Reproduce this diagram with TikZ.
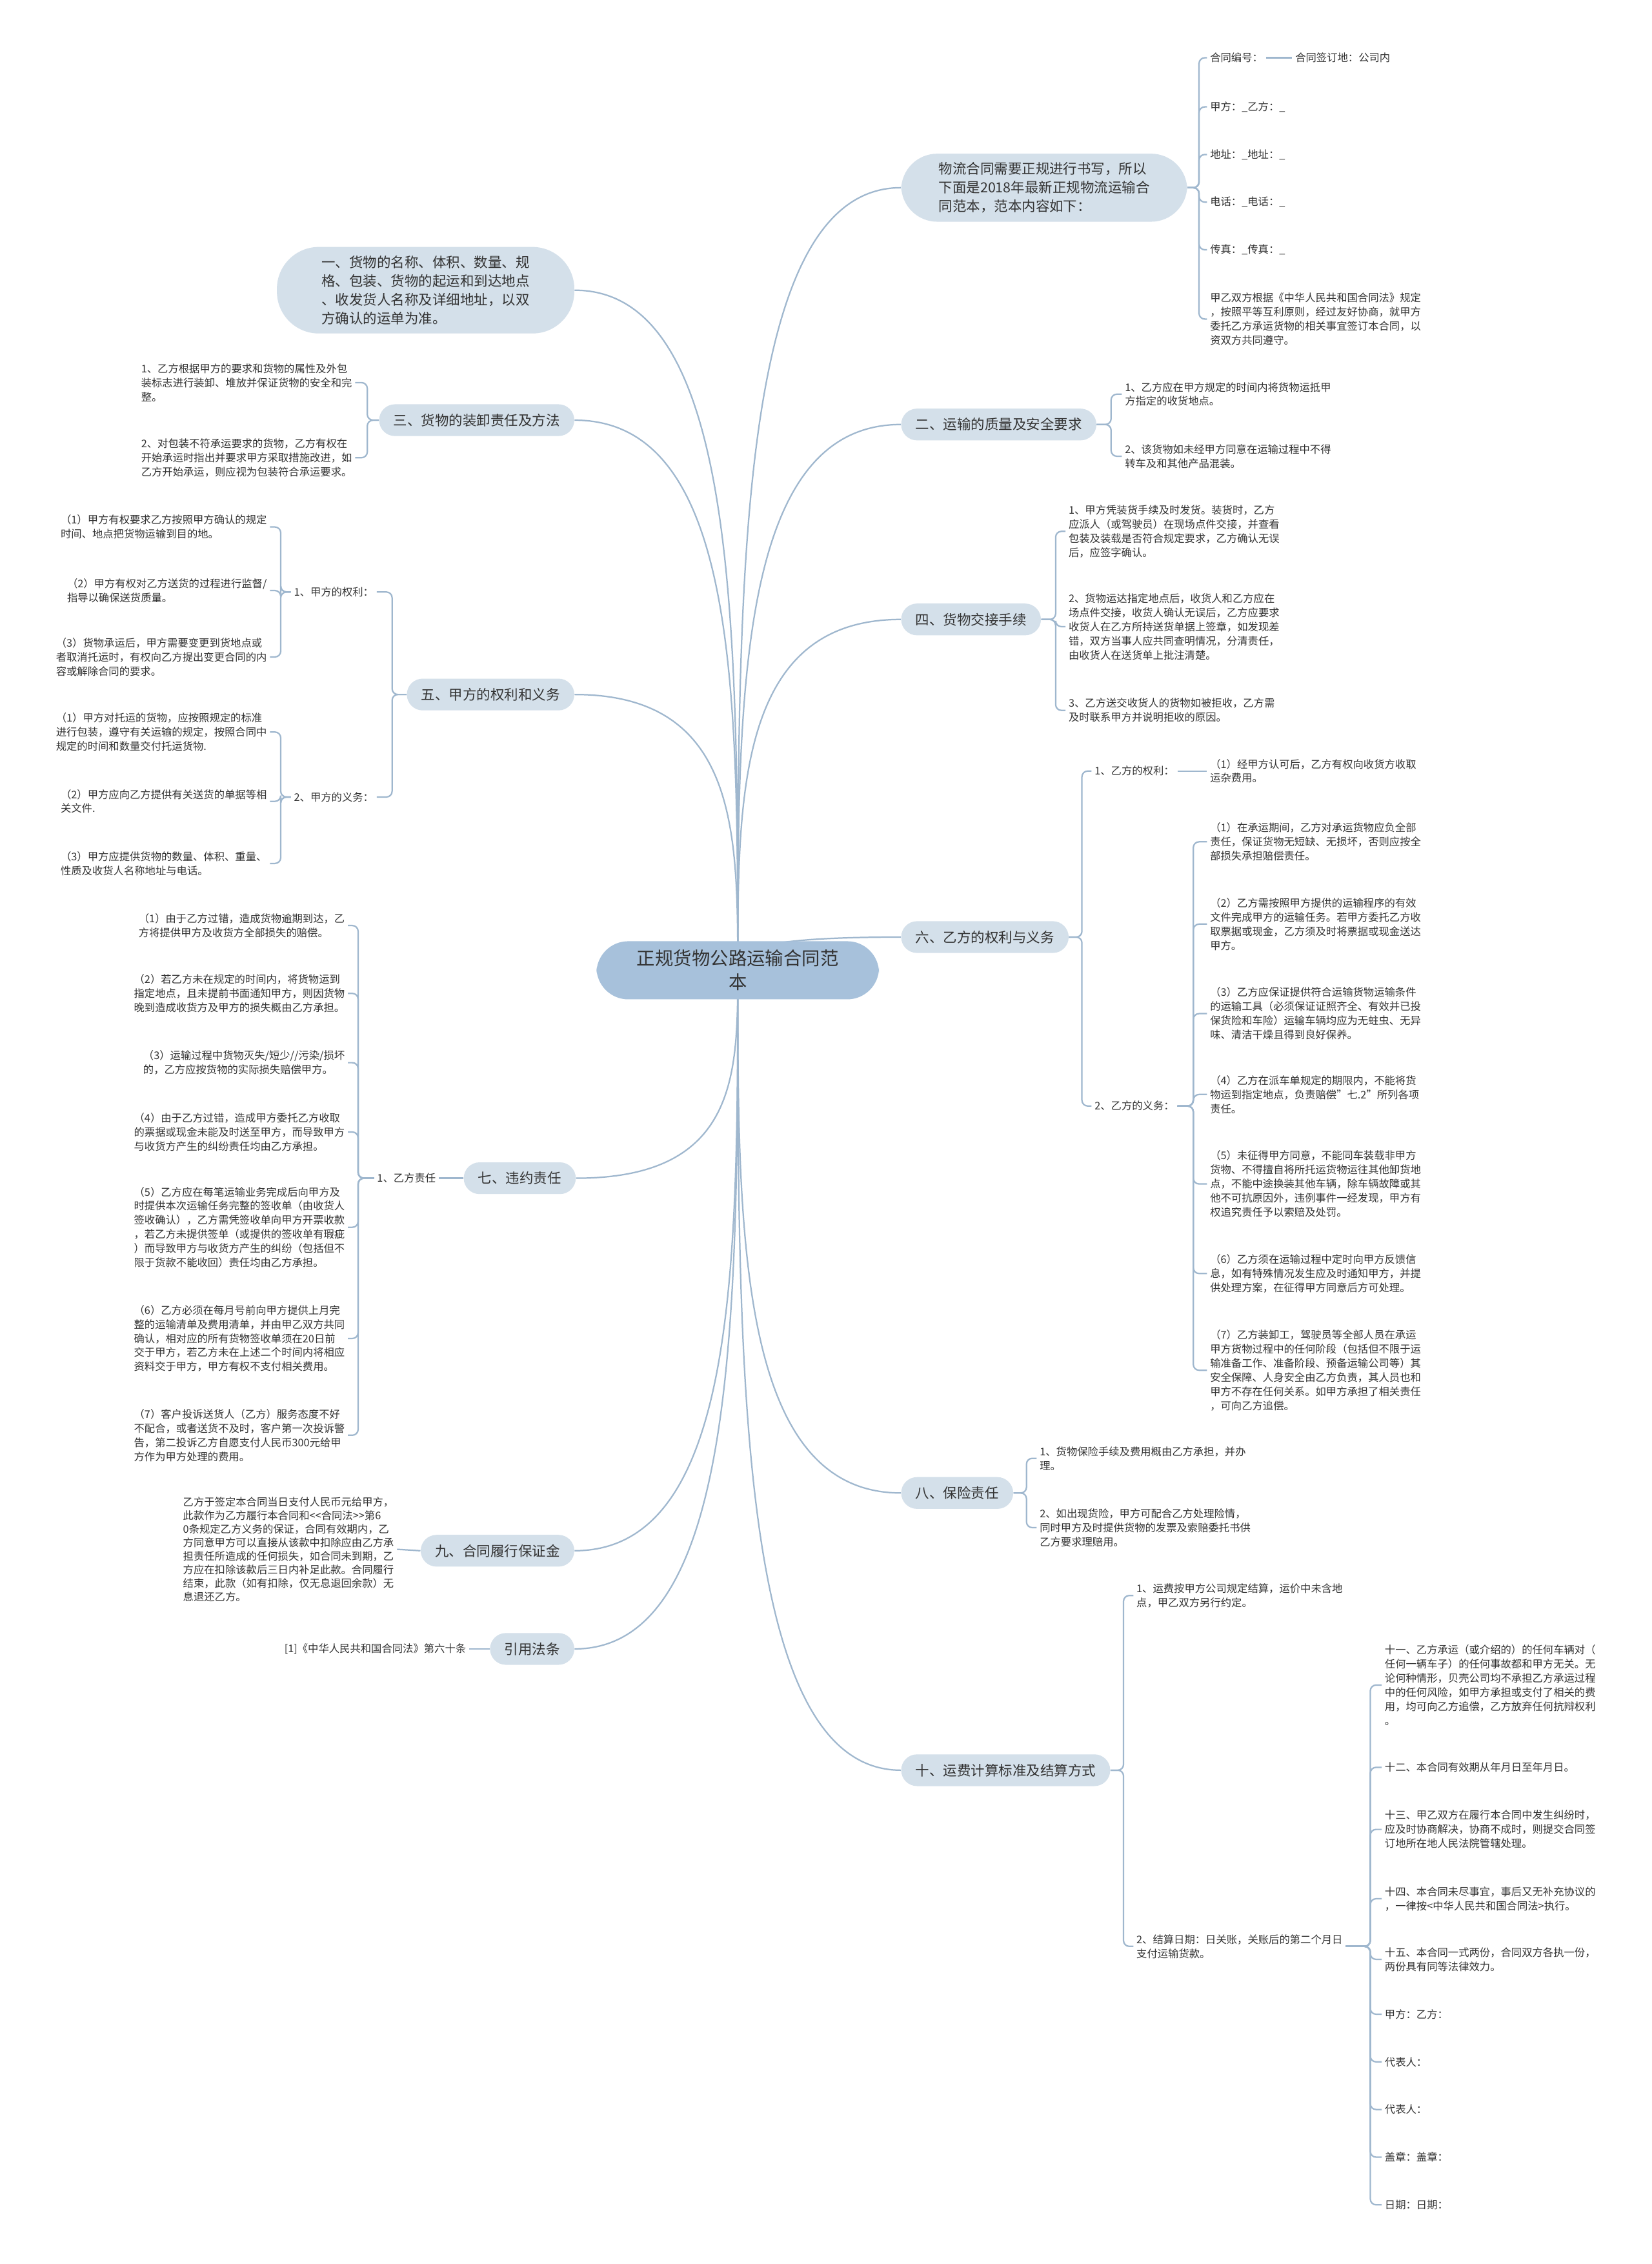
\documentclass[tikz,border=0pt]{standalone}
\usepackage{fontspec}
\setmainfont{Noto Sans CJK SC}
\usetikzlibrary{positioning,calc,backgrounds}
\definecolor{mapline}{HTML}{9FB7CE}
\definecolor{maproot}{HTML}{A7C1DB}
\definecolor{maptopic}{HTML}{D4E0EA}
\definecolor{maptext}{HTML}{333333}

\begin{document}
\begin{tikzpicture}[
    x=1pt, y=-1pt,
    every node/.style={text=maptext, inner sep=2pt},
    root/.style={fill=maproot, rounded corners=22pt, inner xsep=28pt, inner ysep=6pt, align=center, font=\fontsize{12.7}{16.5}\selectfont},
    topic/.style={fill=maptopic, rounded corners=11pt, inner xsep=10pt, minimum height=22pt, align=left, font=\fontsize{9.6}{13}\selectfont},
    bigtopic/.style={topic, rounded corners=25pt, inner xsep=26pt, inner ysep=6pt},
    leaf/.style={align=left, font=\fontsize{7.3}{9.8}\selectfont},
    link/.style={draw=mapline, line width=1pt},
    fork/.style={link, rounded corners=4pt}
]
    \useasboundingbox (0,0) rectangle (1144,1568);

    % root
    \node[root] (ctr) at (511,672) {正规货物公路运输合同范\\本};

    % right topics
    \node[bigtopic, anchor=west] (t0) at (624,130) {物流合同需要正规进行书写，所以\\下面是2018年最新正规物流运输合\\同范本，范本内容如下：};
    \node[topic, anchor=west] (t1) at (624,294) {二、运输的质量及安全要求};
    \node[topic, anchor=west] (t2) at (624,429) {四、货物交接手续};
    \node[topic, anchor=west] (t3) at (624,649) {六、乙方的权利与义务};
    \node[topic, anchor=west] (t4) at (624,1034) {八、保险责任};
    \node[topic, anchor=west] (t5) at (624,1226) {十、运费计算标准及结算方式};

    % left topics
    \node[bigtopic, anchor=east, inner xsep=31pt, rounded corners=29pt] (s0) at (398,201) {一、货物的名称、体积、数量、规\\格、包装、货物的起运和到达地点\\、收发货人名称及详细地址，以双\\方确认的运单为准。};
    \node[topic, anchor=east] (s1) at (398,291) {三、货物的装卸责任及方法};
    \node[topic, anchor=east] (s2) at (398,481) {五、甲方的权利和义务};
    \node[topic, anchor=east] (s3) at (399,816) {七、违约责任};
    \node[topic, anchor=east] (s4) at (398,1074) {九、合同履行保证金};
    \node[topic, anchor=east] (s5) at (398,1142) {引用法条};

    % contract header
    \node[leaf, anchor=west] (a1) at (836,40) {合同编号：};
    \node[leaf, anchor=west] (a1b) at (895,40) {合同签订地：公司内};
    \node[leaf, anchor=west] (a2) at (836,74) {甲方：\_乙方：\_};
    \node[leaf, anchor=west] (a3) at (836,107) {地址：\_地址：\_};
    \node[leaf, anchor=west] (a4) at (836,140) {电话：\_电话：\_};
    \node[leaf, anchor=west] (a5) at (836,173) {传真：\_传真：\_};
    \node[leaf, anchor=west] (a6) at (836,221) {甲乙双方根据《中华人民共和国合同法》规定\\，按照平等互利原则，经过友好协商，就甲方\\委托乙方承运货物的相关事宜签订本合同，以\\资双方共同遵守。};

    % 二
    \node[leaf, anchor=west] (b1) at (777,273) {1、乙方应在甲方规定的时间内将货物运抵甲\\方指定的收货地点。};
    \node[leaf, anchor=west] (b2) at (777,316) {2、该货物如未经甲方同意在运输过程中不得\\转车及和其他产品混装。};

    % 四
    \node[leaf, anchor=west] (c1) at (738,368) {1、甲方凭装货手续及时发货。装货时，乙方\\应派人（或驾驶员）在现场点件交接，并查看\\包装及装载是否符合规定要求，乙方确认无误\\后，应签字确认。};
    \node[leaf, anchor=west] (c2) at (738,434) {2、货物运达指定地点后，收货人和乙方应在\\场点件交接，收货人确认无误后，乙方应要求\\收货人在乙方所持送货单据上签章，如发现差\\错，双方当事人应共同查明情况，分清责任，\\由收货人在送货单上批注清楚。};
    \node[leaf, anchor=west] (c3) at (738,492) {3、乙方送交收货人的货物如被拒收，乙方需\\及时联系甲方并说明拒收的原因。};

    % 六
    \node[leaf, anchor=west] (d1) at (756,534) {1、乙方的权利：};
    \node[leaf, anchor=west] (d2) at (756,766) {2、乙方的义务：};
    \node[leaf, anchor=west] (d1a) at (836,534) {（1）经甲方认可后，乙方有权向收货方收取\\运杂费用。};
    \node[leaf, anchor=west] (e1) at (836,583) {（1）在承运期间，乙方对承运货物应负全部\\责任，保证货物无短缺、无损坏，否则应按全\\部损失承担赔偿责任。};
    \node[leaf, anchor=west] (e2) at (836,640) {（2）乙方需按照甲方提供的运输程序的有效\\文件完成甲方的运输任务。若甲方委托乙方收\\取票据或现金，乙方须及时将票据或现金送达\\甲方。};
    \node[leaf, anchor=west] (e3) at (836,702) {（3）乙方应保证提供符合运输货物运输条件\\的运输工具（必须保证证照齐全、有效并已投\\保货险和车险）运输车辆均应为无蛀虫、无异\\味、清洁干燥且得到良好保养。};
    \node[leaf, anchor=west] (e4) at (836,758) {（4）乙方在派车单规定的期限内，不能将货\\物运到指定地点，负责赔偿”七.2”所列各项\\责任。};
    \node[leaf, anchor=west] (e5) at (836,820) {（5）未征得甲方同意，不能同车装载非甲方\\货物、不得擅自将所托运货物运往其他卸货地\\点，不能中途换装其他车辆，除车辆故障或其\\他不可抗原因外，违例事件一经发现，甲方有\\权追究责任予以索赔及处罚。};
    \node[leaf, anchor=west] (e6) at (836,882) {（6）乙方须在运输过程中定时向甲方反馈信\\息，如有特殊情况发生应及时通知甲方，并提\\供处理方案，在征得甲方同意后方可处理。};
    \node[leaf, anchor=west] (e7) at (836,949) {（7）乙方装卸工，驾驶员等全部人员在承运\\甲方货物过程中的任何阶段（包括但不限于运\\输准备工作、准备阶段、预备运输公司等）其\\安全保障、人身安全由乙方负责，其人员也和\\甲方不存在任何关系。如甲方承担了相关责任\\，可向乙方追偿。};

    % 八
    \node[leaf, anchor=west] (f1) at (718,1010) {1、货物保险手续及费用概由乙方承担，并办\\理。};
    \node[leaf, anchor=west] (f2) at (718,1058) {2、如出现货险，甲方可配合乙方处理险情，\\同时甲方及时提供货物的发票及索赔委托书供\\乙方要求理赔用。};

    % 十
    \node[leaf, anchor=west] (g1) at (785,1105) {1、运费按甲方公司规定结算，运价中未含地\\点，甲乙双方另行约定。};
    \node[leaf, anchor=west] (g2) at (785,1348) {2、结算日期：日关账，关账后的第二个月日\\支付运输货款。};
    \node[leaf, anchor=west] (h1) at (957,1167) {十一、乙方承运（或介绍的）的任何车辆对（\\任何一辆车子）的任何事故都和甲方无关。无\\论何种情形，贝壳公司均不承担乙方承运过程\\中的任何风险，如甲方承担或支付了相关的费\\用，均可向乙方追偿，乙方放弃任何抗辩权利\\。};
    \node[leaf, anchor=west] (h2) at (957,1224) {十二、本合同有效期从年月日至年月日。};
    \node[leaf, anchor=west] (h3) at (957,1267) {十三、甲乙双方在履行本合同中发生纠纷时，\\应及时协商解决，协商不成时，则提交合同签\\订地所在地人民法院管辖处理。};
    \node[leaf, anchor=west] (h4) at (957,1315) {十四、本合同未尽事宜，事后又无补充协议的\\，一律按<中华人民共和国合同法>执行。};
    \node[leaf, anchor=west] (h5) at (957,1357) {十五、本合同一式两份，合同双方各执一份，\\两份具有同等法律效力。};
    \node[leaf, anchor=west] (h6) at (957,1395) {甲方：乙方：};
    \node[leaf, anchor=west] (h7) at (957,1428) {代表人：};
    \node[leaf, anchor=west] (h8) at (957,1461) {代表人：};
    \node[leaf, anchor=west] (h9) at (957,1494) {盖章：盖章：};
    \node[leaf, anchor=west] (h10) at (957,1527) {日期：日期：};

    % 三
    \node[leaf, anchor=east] (k1) at (246,265) {1、乙方根据甲方的要求和货物的属性及外包\\装标志进行装卸、堆放并保证货物的安全和完\\整。};
    \node[leaf, anchor=east] (k2) at (246,317) {2、对包装不符承运要求的货物，乙方有权在\\开始承运时指出并要求甲方采取措施改进，如\\乙方开始承运，则应视为包装符合承运要求。};

    % 五
    \node[leaf, anchor=east] (m1) at (261,410) {1、甲方的权利：};
    \node[leaf, anchor=east] (m2) at (261,552) {2、甲方的义务：};
    \node[leaf, anchor=east] (n1) at (187,365) {（1）甲方有权要求乙方按照甲方确认的规定\\时间、地点把货物运输到目的地。};
    \node[leaf, anchor=east] (n2) at (187,409) {（2）甲方有权对乙方送货的过程进行监督/\\指导以确保送货质量。};
    \node[leaf, anchor=east] (n3) at (187,455) {（3）货物承运后，甲方需要变更到货地点或\\者取消托运时，有权向乙方提出变更合同的内\\容或解除合同的要求。};
    \node[leaf, anchor=east] (o1) at (187,507) {（1）甲方对托运的货物，应按照规定的标准\\进行包装，遵守有关运输的规定，按照合同中\\规定的时间和数量交付托运货物.};
    \node[leaf, anchor=east] (o2) at (187,555) {（2）甲方应向乙方提供有关送货的单据等相\\关文件.};
    \node[leaf, anchor=east] (o3) at (187,598) {（3）甲方应提供货物的数量、体积、重量、\\性质及收货人名称地址与电话。};

    % 七
    \node[leaf, anchor=east] (p0) at (304,816) {1、乙方责任};
    \node[leaf, anchor=east] (q1) at (241,641) {（1）由于乙方过错，造成货物逾期到达，乙\\方将提供甲方及收货方全部损失的赔偿。};
    \node[leaf, anchor=east] (q2) at (241,688) {（2）若乙方未在规定的时间内，将货物运到\\指定地点，且未提前书面通知甲方，则因货物\\晚到造成收货方及甲方的损失概由乙方承担。};
    \node[leaf, anchor=east] (q3) at (241,736) {（3）运输过程中货物灭失/短少//污染/损坏\\的，乙方应按货物的实际损失赔偿甲方。};
    \node[leaf, anchor=east] (q4) at (241,784) {（4）由于乙方过错，造成甲方委托乙方收取\\的票据或现金未能及时送至甲方，而导致甲方\\与收货方产生的纠纷责任均由乙方承担。};
    \node[leaf, anchor=east] (q5) at (241,850) {（5）乙方应在每笔运输业务完成后向甲方及\\时提供本次运输任务完整的签收单（由收货人\\签收确认），乙方需凭签收单向甲方开票收款\\，若乙方未提供签单（或提供的签收单有瑕疵\\）而导致甲方与收货方产生的纠纷（包括但不\\限于货款不能收回）责任均由乙方承担。};
    \node[leaf, anchor=east] (q6) at (241,927) {（6）乙方必须在每月号前向甲方提供上月完\\整的运输清单及费用清单，并由甲乙双方共同\\确认，相对应的所有货物签收单须在20日前\\交于甲方，若乙方未在上述二个时间内将相应\\资料交于甲方，甲方有权不支付相关费用。};
    \node[leaf, anchor=east] (q7) at (241,994) {（7）客户投诉送货人（乙方）服务态度不好\\不配合，或者送货不及时，客户第一次投诉警\\告，第二投诉乙方自愿支付人民币300元给甲\\方作为甲方处理的费用。};

    % 九 and 引用
    \node[leaf, anchor=east, font=\fontsize{7.3}{9.4}\selectfont] (r1) at (275,1073) {乙方于签定本合同当日支付人民币元给甲方，\\此款作为乙方履行本合同和<{}<合同法>{}>第6\\0条规定乙方义务的保证，合同有效期内，乙\\方同意甲方可以直接从该款中扣除应由乙方承\\担责任所造成的任何损失，如合同未到期，乙\\方应在扣除该款后三日内补足此款。合同履行\\结束，此款（如有扣除，仅无息退回余款）无\\息退还乙方。};
    \node[leaf, anchor=east] (u1) at (325,1142) {[1]《中华人民共和国合同法》第六十条};

    \begin{scope}[on background layer]
        \fill[white] (0,0) rectangle (1144,1568);
        % root to topics
        \foreach \t in {t0,t1,t2,t3,t4,t5}
            \draw[link] (ctr.center) .. controls ($(ctr.center)!0.5!(ctr.center|-\t.west)$) and (ctr.center|-\t.west) .. (\t.west);
        \foreach \t in {s0,s1,s2,s3,s4,s5}
            \draw[link] (ctr.center) .. controls ($(ctr.center)!0.5!(ctr.center|-\t.east)$) and (ctr.center|-\t.east) .. (\t.east);
        % right forks
        \foreach \k in {a1,a2,a3,a4,a5,a6}
            \draw[fork] (t0.east) -- ++(8,0) |- (\k.west);
        \draw[link] (a1.east) -- (a1b.west);
        \foreach \k in {b1,b2}
            \draw[fork] (t1.east) -- ++(10,0) |- (\k.west);
        \foreach \k in {c1,c2,c3}
            \draw[fork] (t2.east) -- ++(10,0) |- (\k.west);
        \foreach \k in {d1,d2}
            \draw[fork] (t3.east) -- ++(9,0) |- (\k.west);
        \draw[link] (d1.east) -- (d1a.west);
        \foreach \k in {e1,e2,e3,e4,e5,e6,e7}
            \draw[fork] (d2.east) -- ++(11,0) |- (\k.west);
        \foreach \k in {f1,f2}
            \draw[fork] (t4.east) -- ++(9,0) |- (\k.west);
        \foreach \k in {g1,g2}
            \draw[fork] (t5.east) -- ++(9,0) |- (\k.west);
        \foreach \k in {h1,h2,h3,h4,h5,h6,h7,h8,h9,h10}
            \draw[fork] (g2.east) -- ++(17,0) |- (\k.west);
        % left forks
        \foreach \k in {k1,k2}
            \draw[fork] (s1.west) -- ++(-8,0) |- (\k.east);
        \foreach \k in {m1,m2}
            \draw[fork] (s2.west) -- ++(-10,0) |- (\k.east);
        \foreach \k in {n1,n2,n3}
            \draw[fork] (m1.west) -- ++(-7,0) |- (\k.east);
        \foreach \k in {o1,o2,o3}
            \draw[fork] (m2.west) -- ++(-7,0) |- (\k.east);
        \draw[link] (s3.west) -- (p0.east);
        \foreach \k in {q1,q2,q3,q4,q5,q6,q7}
            \draw[fork] (p0.west) -- ++(-11,0) |- (\k.east);
        \draw[link] (s4.west) -- (r1.east);
        \draw[link] (s5.west) -- (u1.east);
    \end{scope}
\end{tikzpicture}
\end{document}
